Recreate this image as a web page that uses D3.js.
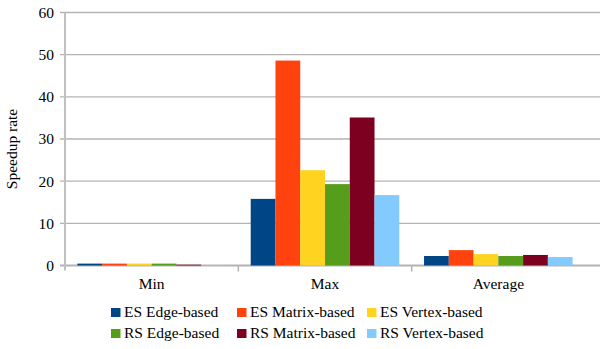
<!DOCTYPE html>
<html>
<head>
<meta charset="utf-8">
<script src="https://cdn.jsdelivr.net/npm/d3@7"></script>
<style>
  html, body { margin: 0; padding: 0; background: #fff; }
  svg { display: block; }
  svg text { font-family: "Liberation Serif", "Times New Roman", Times, "DejaVu Serif", serif; fill: #000; }
</style>
</head>
<body>
<div id="chart"></div>
<script>
// Speedup rate per statistic for each method
const categories = ["Min", "Max", "Average"];
const seriesNames = ["ES Edge-based", "ES Matrix-based", "ES Vertex-based",
                     "RS Edge-based", "RS Matrix-based", "RS Vertex-based"];
const esEdge   = [0.45, 15.8, 2.25];
const esMatrix = [0.45, 48.6, 3.65];
const esVertex = [0.45, 22.6, 2.7];
const rsEdge   = [0.45, 19.3, 2.25];
const rsMatrix = [0.2, 35.1, 2.5];
const rsVertex = [0.1, 16.7, 2.0];
const yTicks = [0, 10, 20, 30, 40, 50, 60];
const colors = ["#004586", "#ff420e", "#ffd320", "#579d1c", "#7e0021", "#83caff"];

const seriesValues = [esEdge, esMatrix, esVertex, rsEdge, rsMatrix, rsVertex];

const W = 600, H = 349;
const plotLeft = 65, plotRight = 585, plotTop = 12.5, plotBottom = 265.5;
const fontStack = '"Liberation Serif", "Times New Roman", Times, "DejaVu Serif", serif';
const fontSize = 15.5;

const svg = d3.select("#chart").append("svg")
  .attr("width", W).attr("height", H);

const x0 = d3.scaleBand().domain(categories).range([plotLeft, plotRight]).paddingInner(0).paddingOuter(0);
const x1 = d3.scaleBand().domain(seriesNames).range([0, x0.bandwidth()]).paddingOuter(0.5).paddingInner(0);
const y = d3.scaleLinear().domain([0, 60]).range([plotBottom, plotTop]);

// horizontal grid lines (with short tick marks left of the axis)
svg.append("g").selectAll("line").data(yTicks).join("line")
  .attr("x1", plotLeft - 5).attr("x2", W)
  .attr("y1", d => y(d)).attr("y2", d => y(d))
  .attr("stroke", "#b3b3b3").attr("stroke-width", d => d === 0 ? 2 : 1.3);

// y axis line
svg.append("line").attr("x1", plotLeft).attr("x2", plotLeft).attr("y1", plotTop).attr("y2", plotBottom + 5)
  .attr("stroke", "#c0c0c0").attr("stroke-width", 2);

// category separators
svg.append("g").selectAll("line").data(categories.slice(1)).join("line")
  .attr("x1", d => x0(d)).attr("x2", d => x0(d))
  .attr("y1", plotBottom).attr("y2", plotBottom + 6)
  .attr("stroke", "#b3b3b3").attr("stroke-width", 1.5);

// y tick labels
const yAxis = d3.axisLeft(y).tickValues(yTicks).tickSize(0).tickPadding(11);
const gy = svg.append("g").attr("transform", `translate(${plotLeft},0)`).call(yAxis)
  .attr("font-family", fontStack).attr("font-size", fontSize);
gy.select(".domain").remove();
gy.selectAll("text").attr("fill", "#000");

// bars
const groups = svg.append("g").selectAll("g").data(categories).join("g")
  .attr("transform", d => `translate(${x0(d)},0)`);
groups.selectAll("rect")
  .data((c, ci) => seriesNames.map((s, si) => ({ s, si, v: seriesValues[si][ci] })))
  .join("rect")
  .attr("x", d => x1(d.s))
  .attr("width", x1.bandwidth())
  .attr("y", d => y(d.v))
  .attr("height", d => y(0) - y(d.v))
  .attr("fill", d => colors[d.si]);

// category labels
const xAxis = d3.axisBottom(x0).tickSize(0).tickPadding(12);
const gx = svg.append("g").attr("transform", `translate(0,${plotBottom})`).call(xAxis)
  .attr("font-family", fontStack).attr("font-size", fontSize);
gx.select(".domain").remove();
gx.selectAll("text").attr("fill", "#000");

// y axis title
svg.append("text")
  .attr("transform", `translate(17,${(plotTop + plotBottom) / 2 + 10}) rotate(-90)`)
  .attr("text-anchor", "middle")
  .attr("font-size", fontSize)
  .text("Speedup rate");

// legend
const legendCols = [111, 237, 367];
const legendRows = [308, 329];
const legend = svg.append("g").selectAll("g").data(seriesNames).join("g")
  .attr("transform", (d, i) => `translate(${legendCols[i % 3]},${legendRows[Math.floor(i / 3)]})`);
legend.append("rect").attr("width", 9.5).attr("height", 9).attr("fill", (d, i) => colors[i]);
legend.append("text").attr("x", 13).attr("y", 9).attr("font-size", fontSize).text(d => d);
</script>
</body>
</html>
